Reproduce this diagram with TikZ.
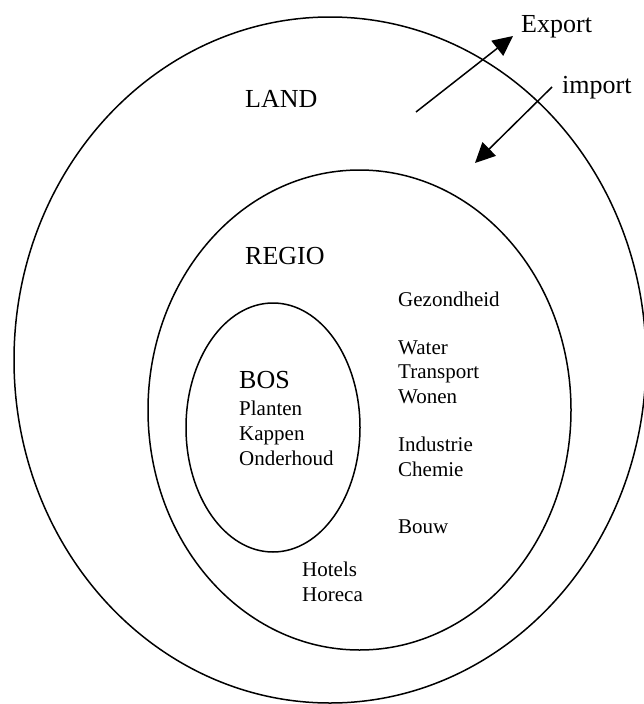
\documentclass[tikz,border=0pt]{standalone}
\usepackage{fontspec}
\setmainfont{Liberation Serif}
\usetikzlibrary{shapes.geometric,arrows.meta}
\tikzset{
	ring/.style={draw, ellipse, line width=1.5pt, inner sep=0pt, outer sep=0pt},
	groot/.style={anchor=base west, inner sep=0pt, font=\fontsize{26}{30}\selectfont},
	klein/.style={anchor=base west, inner sep=0pt, font=\fontsize{21}{25}\selectfont},
	stroom/.style={line width=1.5pt, -{Triangle[length=20pt,width=19pt]}}
}
\begin{document}
\begin{tikzpicture}[x=1pt,y=-1pt]
		\useasboundingbox (0,0) rectangle (643,704);
		\node[ring, minimum width=632pt, minimum height=686pt] (land) at (330,360) {};
		\node[ring, minimum width=423pt, minimum height=480pt] (regio) at (359.5,410) {};
		\node[ring, minimum width=174pt, minimum height=249pt] (bos) at (273,427.5) {};
		\node[groot] (landtxt) at (245,107.5) {LAND};
		\node[groot] (regiotxt) at (245,264) {REGIO};
		\node[groot] (bostxt) at (239,388.5) {BOS};
		\foreach \regel [count=\i] in {Planten,Kappen,Onderhoud}
			\node[klein] (bos-\i) at (239,{390+25*\i}) {\regel};
		\node[klein] (gezond) at (398,306) {Gezondheid};
		\foreach \regel [count=\i] in {Water,Transport,Wonen}
			\node[klein] (water-\i) at (398,{329.5+24.5*\i}) {\regel};
		\foreach \regel [count=\i] in {Industrie,Chemie}
			\node[klein] (industrie-\i) at (398,{425.5+25.5*\i}) {\regel};
		\node[klein] (bouw) at (398,533) {Bouw};
		\foreach \regel [count=\i] in {Hotels,Horeca}
			\node[klein] (hotels-\i) at (302,{550.5+25.5*\i}) {\regel};
		\node[groot] (export) at (521,32.3) {Export};
		\node[groot] (import) at (562,93) {import};
		\coordinate (uitvoer-van) at (416,112);
		\coordinate (uitvoer-naar) at (513,36);
		\coordinate (invoer-van) at (552,87);
		\coordinate (invoer-naar) at (475,163);
		\draw[stroom] (uitvoer-van) -- (uitvoer-naar);
		\draw[stroom] (invoer-van) -- (invoer-naar);
\end{tikzpicture}
\end{document}
